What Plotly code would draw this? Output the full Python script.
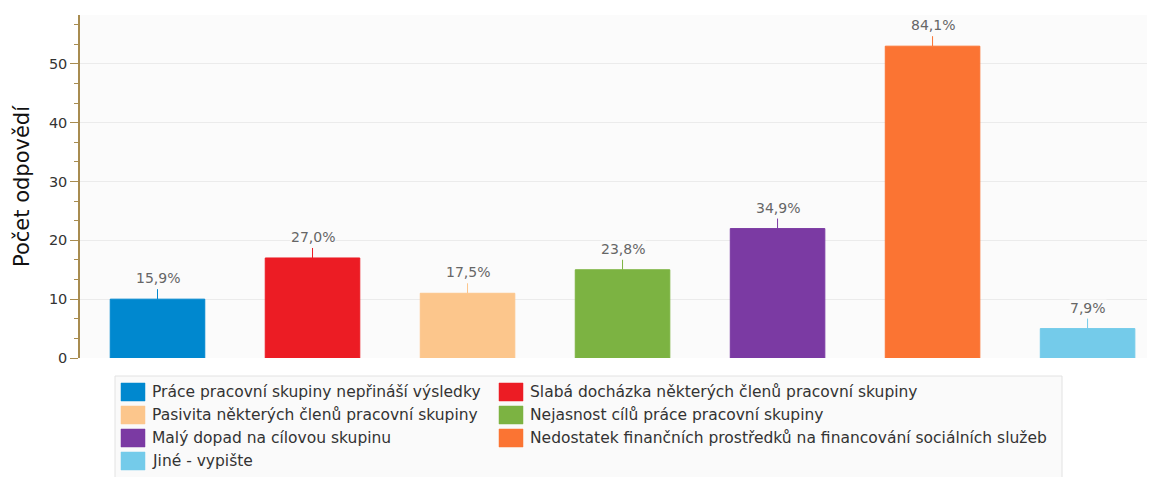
import plotly.graph_objects as go

categories = [
    "Práce pracovní skupiny nepřináší výsledky",
    "Slabá docházka některých členů pracovní skupiny",
    "Pasivita některých členů pracovní skupiny",
    "Nejasnost cílů práce pracovní skupiny",
    "Malý dopad na cílovou skupinu",
    "Nedostatek finančních prostředků na financování sociálních služeb",
    "Jiné - vypište",
]
counts = [10, 17, 11, 15, 22, 53, 5]
percent_labels = ["15,9%", "27,0%", "17,5%", "23,8%", "34,9%", "84,1%", "7,9%"]
colors = ["#0088cf", "#ec1c24", "#fcc68c", "#7cb342", "#7b3aa3", "#fb7433", "#74cbea"]

FONT = "DejaVu Sans"

# page geometry (the page body has an 8px margin)
W, H = 1147, 469
ML, MR, MT, MB = 72, 0, 7, 119
PLOT_L, PLOT_T = 8 + ML, 8 + MT
PLOT_W, PLOT_H = W - ML - MR, H - MT - MB
PLOT_B = PLOT_T + PLOT_H


def px(x):
    return (x - PLOT_L) / PLOT_W


def py(y):
    return (PLOT_B - y) / PLOT_H


fig = go.Figure()
for i, (cat, val, col) in enumerate(zip(categories, counts, colors)):
    fig.add_trace(go.Bar(
        x=[i], y=[val], name=cat, width=0.61,
        marker=dict(color=col, line=dict(color=col, width=1)),
        error_y=dict(type="data", symmetric=False, array=[1.7], arrayminus=[0],
                     width=0, color=col, thickness=1),
        hoverinfo="skip", showlegend=False,
    ))
    fig.add_annotation(x=i, y=val, text=percent_labels[i], showarrow=False,
                       yshift=21, font=dict(size=14, color="#666666", family=FONT),
                       bgcolor="#fbfbfb", borderpad=0)

# legend drawn as a boxed two-column key
shapes = [dict(type="rect", xref="paper", yref="paper",
               x0=px(115), x1=px(1062), y0=py(490), y1=py(376),
               fillcolor="#fafafa", line=dict(color="#e2e2e2", width=1), layer="below")]
col_x = [121, 499]
row_y0 = 392
row_step = 23
for i, (cat, col) in enumerate(zip(categories, colors)):
    r, c = divmod(i, 2)
    cy = row_y0 + r * row_step
    sx = col_x[c]
    shapes.append(dict(type="rect", xref="paper", yref="paper",
                       x0=px(sx), x1=px(sx + 24), y0=py(cy + 9), y1=py(cy - 9),
                       fillcolor=col, line=dict(color=col, width=0.5)))
    fig.add_annotation(xref="paper", yref="paper", x=px(sx + 29), y=py(cy),
                       xanchor="left", yanchor="middle", text=cat, showarrow=False,
                       font=dict(size=15.5, color="#333333", family=FONT))

fig.update_layout(
    width=W, height=H,
    margin=dict(l=ML, r=MR, t=MT, b=MB, autoexpand=False),
    paper_bgcolor="white", plot_bgcolor="#fbfbfb",
    barmode="overlay", showlegend=False,
    font=dict(family=FONT, color="#333333", size=14),
    shapes=shapes,
)
fig.update_xaxes(range=[-0.5, 6.435], showticklabels=False, showgrid=False,
                 zeroline=False, showline=False, ticks="")
fig.update_yaxes(
    range=[0, 58.3], dtick=10, showgrid=True, gridcolor="#ebebeb", gridwidth=1,
    zeroline=False, showline=True, linecolor="#a88c50", linewidth=1.5,
    ticks="outside", ticklen=8, tickcolor="#a88c50",
    tickfont=dict(size=14.5, color="#333333", family=FONT),
    minor=dict(dtick=10/3, ticks="outside", ticklen=4, tickcolor="#a88c50", showgrid=False),
    automargin=False,
    title=dict(text="Počet odpovědí", font=dict(size=21, color="#111111", family=FONT), standoff=14),
)

fig.write_html("out.html")
